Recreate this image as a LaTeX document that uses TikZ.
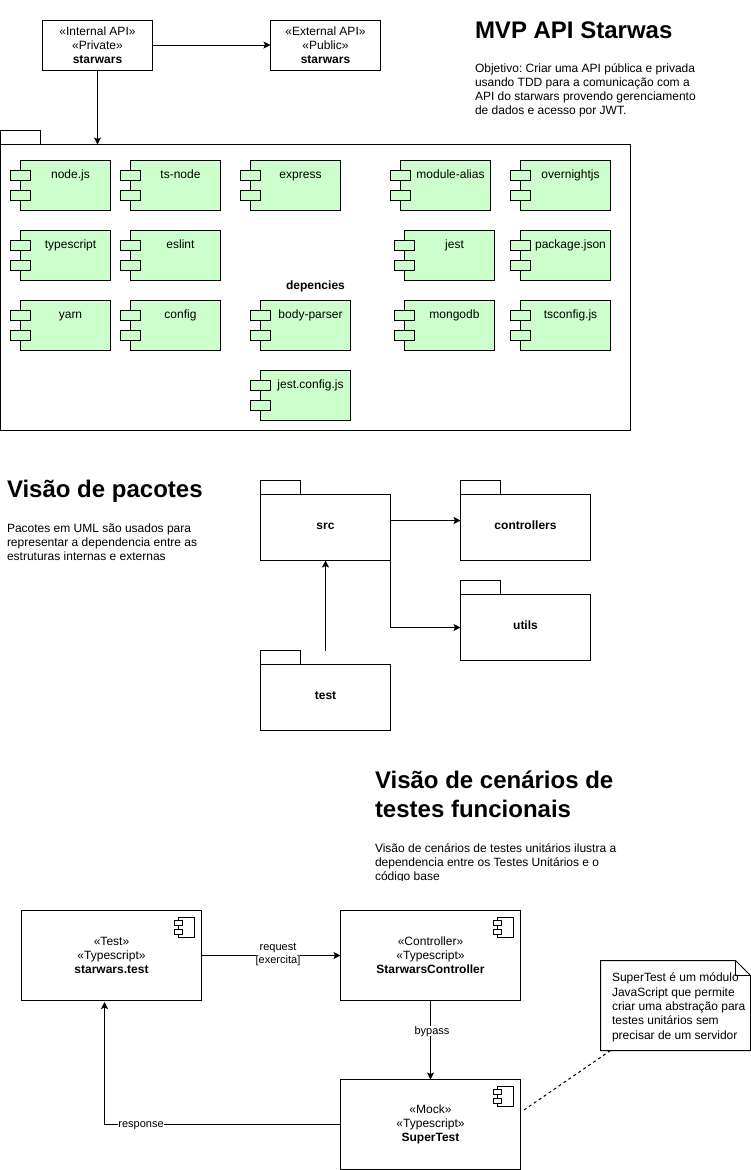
\documentclass[tikz,border=0pt]{standalone}
\usepackage{fontspec}
\setmainfont{Liberation Sans}
\usetikzlibrary{arrows.meta}

\definecolor{compGreen}{HTML}{CCFFCC}

\tikzset{
    every node/.style={font=\fontsize{12}{14}\selectfont, inner sep=0pt, outer sep=0pt},
    uml/.style={line width=1pt, black},
    link/.style={uml, -{Stealth[length=7pt, width=7pt, inset=1.5pt]}},
    plain text/.style={align=left, anchor=north west},
    title text/.style={align=left, anchor=north west, font=\fontsize{24}{29}\selectfont\bfseries},
    edge text/.style={fill=white, align=center, font=\fontsize{11}{13}\selectfont},
}

% package with its tab: name, left, top of body, width, height, label
\newcommand{\pkgNode}[6]{
    \node [draw, uml] [anchor=south west] [minimum width=40pt, minimum height=14pt] (#1Tab) at (#2,#3) {};
    \node [draw, uml] [anchor=north west] [minimum width=#4pt, minimum height=#5pt] (#1) at (#2,#3) {};
    \node [font=\fontsize{12}{14}\selectfont\bfseries] [anchor=base] (#1Label) at ([yshift=-2pt] #1.center) {#6};
}

% green module: name, left of body, top, label
\newcommand{\modNode}[4]{
    \node [draw, uml] [fill=compGreen] [anchor=north west] [minimum width=90pt, minimum height=50pt] (#1) at (#2,#3) {};
    \node [draw, uml] [fill=compGreen] [minimum width=20pt, minimum height=10pt] (#1A) at ([yshift=-15pt] #1.north west) {};
    \node [draw, uml] [fill=compGreen] [minimum width=20pt, minimum height=10pt] (#1B) at ([yshift=-35pt] #1.north west) {};
    \node [anchor=base] (#1Label) at ([xshift=50pt, yshift=-18pt] #1.north west) {#4};
}

% big component with the small icon: name, left, top, text
\newcommand{\compNode}[4]{
    \node [draw, uml] [anchor=north west] [minimum width=180pt, minimum height=90pt] [align=center] (#1) at (#2,#3) {#4};
    \node [draw, uml] [anchor=north east] [minimum width=16pt, minimum height=20pt] (#1Icon) at ([xshift=-7pt, yshift=-7pt] #1.north east) {};
    \node [draw, uml, fill=white] [minimum width=8pt, minimum height=4.5pt] (#1IconA) at ([yshift=-5.5pt] #1Icon.north west) {};
    \node [draw, uml, fill=white] [minimum width=8pt, minimum height=4.5pt] (#1IconB) at ([yshift=-14.5pt] #1Icon.north west) {};
}

\begin{document}
\frenchspacing
\begin{tikzpicture}[x=1pt, y=-1pt]
    \useasboundingbox (0,0) rectangle (751,1170);

    % top: the two APIs
    \node [draw, uml] (internal) at (97.5,45)  [minimum width=110pt, minimum height=50pt] [align=center] {«Internal API»\\«Private»\\\textbf{starwars}};
    \node [draw, uml] (external) at (325.5,45) [minimum width=110pt, minimum height=50pt] [align=center] {«External API»\\«Public»\\\textbf{starwars}};

    \node [title text] (mvpTitle) at (475,22) {MVP API Starwas};
    \node [plain text] (mvpText) at (475,64) {Objetivo: Criar uma API pública e privada\\usando TDD para a comunicação com a\\API do starwars provendo gerenciamento\\de dados e acesso por JWT.};

    \pkgNode{depencies}{0.5}{144.5}{630}{286}{depencies}

    \modNode{nodejs}{20.5}{160.5}{node.js}
    \modNode{tsnode}{130.5}{160.5}{ts-node}
    \modNode{express}{250.5}{160.5}{express}
    \modNode{alias}{400.5}{160.5}{module-alias}
    \modNode{overnight}{520.5}{160.5}{overnightjs}
    \modNode{typescript}{20.5}{230.5}{typescript}
    \modNode{eslint}{130.5}{230.5}{eslint}
    \modNode{jest}{404.5}{230.5}{jest}
    \modNode{package}{520.5}{230.5}{package.json}
    \modNode{yarn}{20.5}{300.5}{yarn}
    \modNode{config}{130.5}{300.5}{config}
    \modNode{bodyparser}{260.5}{300.5}{body-parser}
    \modNode{mongodb}{404.5}{300.5}{mongodb}
    \modNode{tsconfig}{520.5}{300.5}{tsconfig.js}
    \modNode{jestconfig}{260.5}{370.5}{jest.config.js}

    \draw [link] (internal) to (external);
    \draw [link] (internal.south) to (internal.south |- depencies.north);

    % packages
    \node [title text] (pkgTitle) at (7,480) {Visão de pacotes};
    \node [plain text] (pkgText) at (7,524) {Pacotes em UML são usados para\\representar a dependencia entre as\\estruturas internas e externas};

    \pkgNode{src}{260.5}{494.5}{130}{66}{src}
    \pkgNode{controllers}{460.5}{494.5}{130}{66}{controllers}
    \pkgNode{utils}{460.5}{594.5}{130}{66}{utils}
    \pkgNode{test}{260.5}{664.5}{130}{66}{test}
    \coordinate (testTop) at (325.5,650.5);

    \draw [link] ([yshift=7pt] src.east) to ([yshift=7pt] controllers.west);
    \draw [link] (src.south east) |- (utils.west);
    \draw [link] (testTop) to (src.south);

    % functional test scenarios
    \node [title text] (testTitle) at (375,771) {Visão de cenários de\\testes funcionais};
    \begin{scope}
        \clip (370,835) rectangle (640,880);
        \node [plain text] (testText) at (375,844) {Visão de cenários de testes unitários ilustra a\\dependencia entre os Testes Unitários e o\\código base};
    \end{scope}

    \compNode{starwarsTest}{21.5}{910.5}{«Test»\\«Typescript»\\\textbf{starwars.test}}
    \compNode{controller}{340.5}{910.5}{«Controller»\\«Typescript»\\\textbf{StarwarsController}}
    \compNode{superTest}{340.5}{1079.5}{«Mock»\\«Typescript»\\\textbf{SuperTest}}

    \draw [link] (starwarsTest) to
        node[midway, edge text, xshift=7pt, yshift=0.5pt] (requestLabel) {request\\{[exercita]}}
        (controller);

    \draw [link] (controller) to
        node[pos=0.39, edge text, xshift=1.5pt] (bypassLabel) {bypass}
        (superTest);

    \coordinate (responseEnd) at (104.5,1002);
    \draw [link] (superTest.west) -| (responseEnd);
    \node [edge text] (responseLabel) at (141,1126) {response};

    % note
    \node [anchor=north west] [minimum width=150pt, minimum height=90pt] (note) at (600.5,960.5) {};
    \draw [uml] (note.north west) -- ([xshift=-15pt] note.north east) -- ([yshift=-15pt] note.north east)
        -- (note.south east) -- (note.south west) -- cycle;
    \draw [uml] ([xshift=-15pt] note.north east) -- ++(0,15) -- ([yshift=-15pt] note.north east);
    \node [plain text] [font=\fontsize{12}{14.3}\selectfont] (noteText) at (612,973) {SuperTest é um módulo\\JavaScript que permite\\criar uma abstração para\\testes unitários sem\\precisar de um servidor};

    \coordinate (noteEnd) at (524,1110);
    \draw [uml, dashed, dash pattern=on 3pt off 3pt] ([xshift=10pt] note.south west) to (noteEnd);
\end{tikzpicture}
\end{document}
